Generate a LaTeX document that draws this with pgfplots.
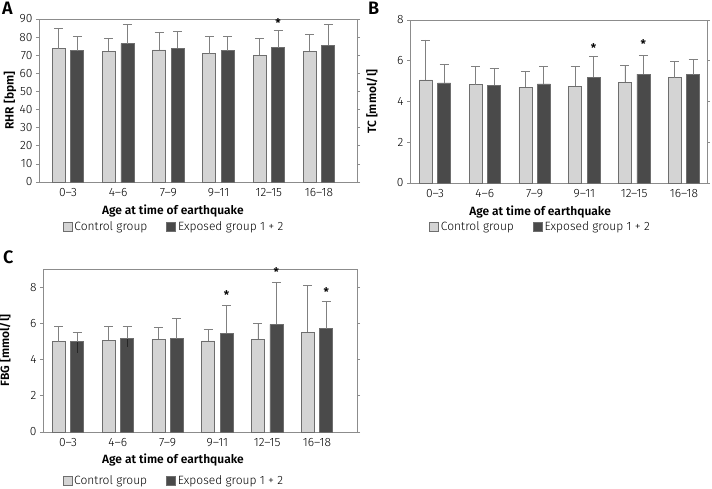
\documentclass[border=0pt]{standalone}
\usepackage{fontspec}
\setmainfont{Fira Sans Light}[BoldFont={Fira Sans SemiBold}]
\usepackage{pgfplots}
\pgfplotsset{compat=1.18}

\definecolor{ctrl}{HTML}{D4D4D4}
\definecolor{expo}{HTML}{4A4A4A}
\definecolor{edge}{HTML}{6E6E6E}
\definecolor{frame}{HTML}{8C8C8C}
\definecolor{errc}{HTML}{808080}

% control bars sit at i-0.185, exposed bars at i+0.185
\pgfplotsset{
  panel/.style={
    scale only axis, height=163pt, ymin=0, clip=false,
    xtick={0,...,5},
    xticklabels={0–3,4–6,7–9,9–11,12–15,16–18},
    xtick style={draw=none},
    ytick style={draw=frame, line width=0.6pt},
    tick align=outside, major tick length=3pt,
    axis line style={frame, line width=0.8pt},
    tick label style={font=\fontsize{12}{14}\selectfont},
    label style={font=\bfseries\fontsize{12}{14}\selectfont},
    xlabel={Age at time of earthquake},
    /pgf/number format/assume math mode=true,
    legend columns=2,
    legend style={draw=none, fill=none, font=\fontsize{12}{14}\selectfont,
      anchor=center, /tikz/every even column/.append style={column sep=17pt}},
    legend image code/.code={\draw[#1, draw=edge, line width=0.6pt] (0pt,-4pt) rectangle (9pt,5pt);},
  },
  grpbars/.style={ybar, bar width=13pt, bar shift=0pt, fill=#1, draw=edge, line width=0.7pt,
    error bars/.cd, y dir=plus, y explicit,
    error bar style={errc, line width=0.9pt},
    error mark options={rotate=90, errc, line width=0.9pt, mark size=4.5pt}},
  starmark/.style={only marks, mark=text,
    text mark={\bfseries\fontsize{12}{12}\selectfont *}},
}

\begin{document}
\begin{tikzpicture}
\useasboundingbox (0,0) rectangle (712pt,488pt);

% A
\begin{axis}[panel, at={(39pt,306pt)}, anchor=south west, width=318pt,
  xmin=-0.578, xmax=5.757, ymax=90, ytick={0,10,...,90},
  ylabel={RHR [bpm]},
  ylabel style={at={(axis description cs:-0.091,0.5)}, anchor=center},
  xlabel style={at={(axis description cs:0.421,0)}, anchor=center, yshift=-29pt},
  legend style={at={(0.425,-0.276)}}]
\addplot[grpbars=ctrl] coordinates {(-0.185,73.6) +- (0,11.1) (0.815,72.2) +- (0,7.1) (1.815,72.9) +- (0,9.4)
  (2.815,70.9) +- (0,9.5) (3.815,70.1) +- (0,8.9) (4.815,72.3) +- (0,9.4)};
\addlegendentry{Control group}
\addplot[grpbars=expo] coordinates {(0.185,72.5) +- (0,7.9) (1.185,76.4) +- (0,10.5) (2.185,73.8) +- (0,9.4)
  (3.185,72.5) +- (0,7.9) (4.185,74.2) +- (0,9.5) (5.185,75.6) +- (0,11.5)};
\addlegendentry{Exposed group 1 + 2}
\addplot[starmark, forget plot] coordinates {(4.185,87.6)};
\end{axis}

% B
\begin{axis}[panel, at={(410pt,305pt)}, anchor=south west, width=297pt,
  xmin=-0.502, xmax=5.462, ymax=8, ytick={0,2,...,8},
  ylabel={TC [mmol/l]},
  ylabel style={at={(axis description cs:-0.128,0.5)}, anchor=center},
  xlabel style={at={(axis description cs:0.438,0)}, anchor=center, yshift=-29pt},
  legend style={at={(0.44,-0.27)}}]
\addplot[grpbars=ctrl] coordinates {(-0.185,5.06) +- (0,1.96) (0.815,4.83) +- (0,0.90) (1.815,4.70) +- (0,0.78)
  (2.815,4.75) +- (0,0.98) (3.815,4.94) +- (0,0.84) (4.815,5.17) +- (0,0.80)};
\addlegendentry{Control group}
\addplot[grpbars=expo] coordinates {(0.185,4.91) +- (0,0.93) (1.185,4.81) +- (0,0.80) (2.185,4.86) +- (0,0.87)
  (3.185,5.20) +- (0,0.99) (4.185,5.34) +- (0,0.94) (5.185,5.32) +- (0,0.74)};
\addlegendentry{Exposed group 1 + 2}
\addplot[starmark, forget plot] coordinates {(3.185,6.64) (4.185,6.82)};
\end{axis}

% C
\begin{axis}[panel, at={(43pt,56pt)}, anchor=south west, width=314pt,
  xmin=-0.502, xmax=5.803, ymax=9, ytick={0,2,...,8},
  ylabel={FBG [mmol/l]},
  ylabel style={at={(axis description cs:-0.121,0.5)}, anchor=center},
  xlabel style={at={(axis description cs:0.414,0)}, anchor=center, yshift=-28pt},
  legend style={at={(0.417,-0.30)}}]
\addplot[grpbars=ctrl] coordinates {(-0.185,4.98) +- (0,0.84) (0.815,5.07) +- (0,0.77) (1.815,5.11) +- (0,0.68)
  (2.815,5.03) +- (0,0.65) (3.815,5.11) +- (0,0.86) (4.815,5.51) +- (0,2.56)};
\addlegendentry{Control group}
\addplot[grpbars=expo] coordinates {(0.185,4.98) +- (0,0.49) (1.185,5.16) +- (0,0.66) (2.185,5.16) +- (0,1.11)
  (3.185,5.46) +- (0,1.54) (4.185,5.94) +- (0,2.34) (5.185,5.71) +- (0,1.50)};
\addlegendentry{Exposed group 1 + 2}
\addplot[ybar, bar width=13pt, bar shift=0pt, draw=none, fill=none, forget plot,
  error bars/.cd, y dir=minus, y explicit, error mark=none,
  error bar style={black!85, line width=0.9pt}]
  coordinates {(0.185,4.98) -= (0,0.62) (1.185,5.16) -= (0,0.47)};
\addplot[starmark, forget plot] coordinates {(3.185,7.56) (4.185,8.81) (5.185,7.70)};
\end{axis}

\node[font=\bfseries\fontsize{18}{18}\selectfont, anchor=base west, inner sep=0pt] at (2pt,473pt) {A};
\node[font=\bfseries\fontsize{18}{18}\selectfont, anchor=base west, inner sep=0pt] at (368pt,473pt) {B};
\node[font=\bfseries\fontsize{18}{18}\selectfont, anchor=base west, inner sep=0pt] at (3pt,225pt) {C};
\end{tikzpicture}
\end{document}
